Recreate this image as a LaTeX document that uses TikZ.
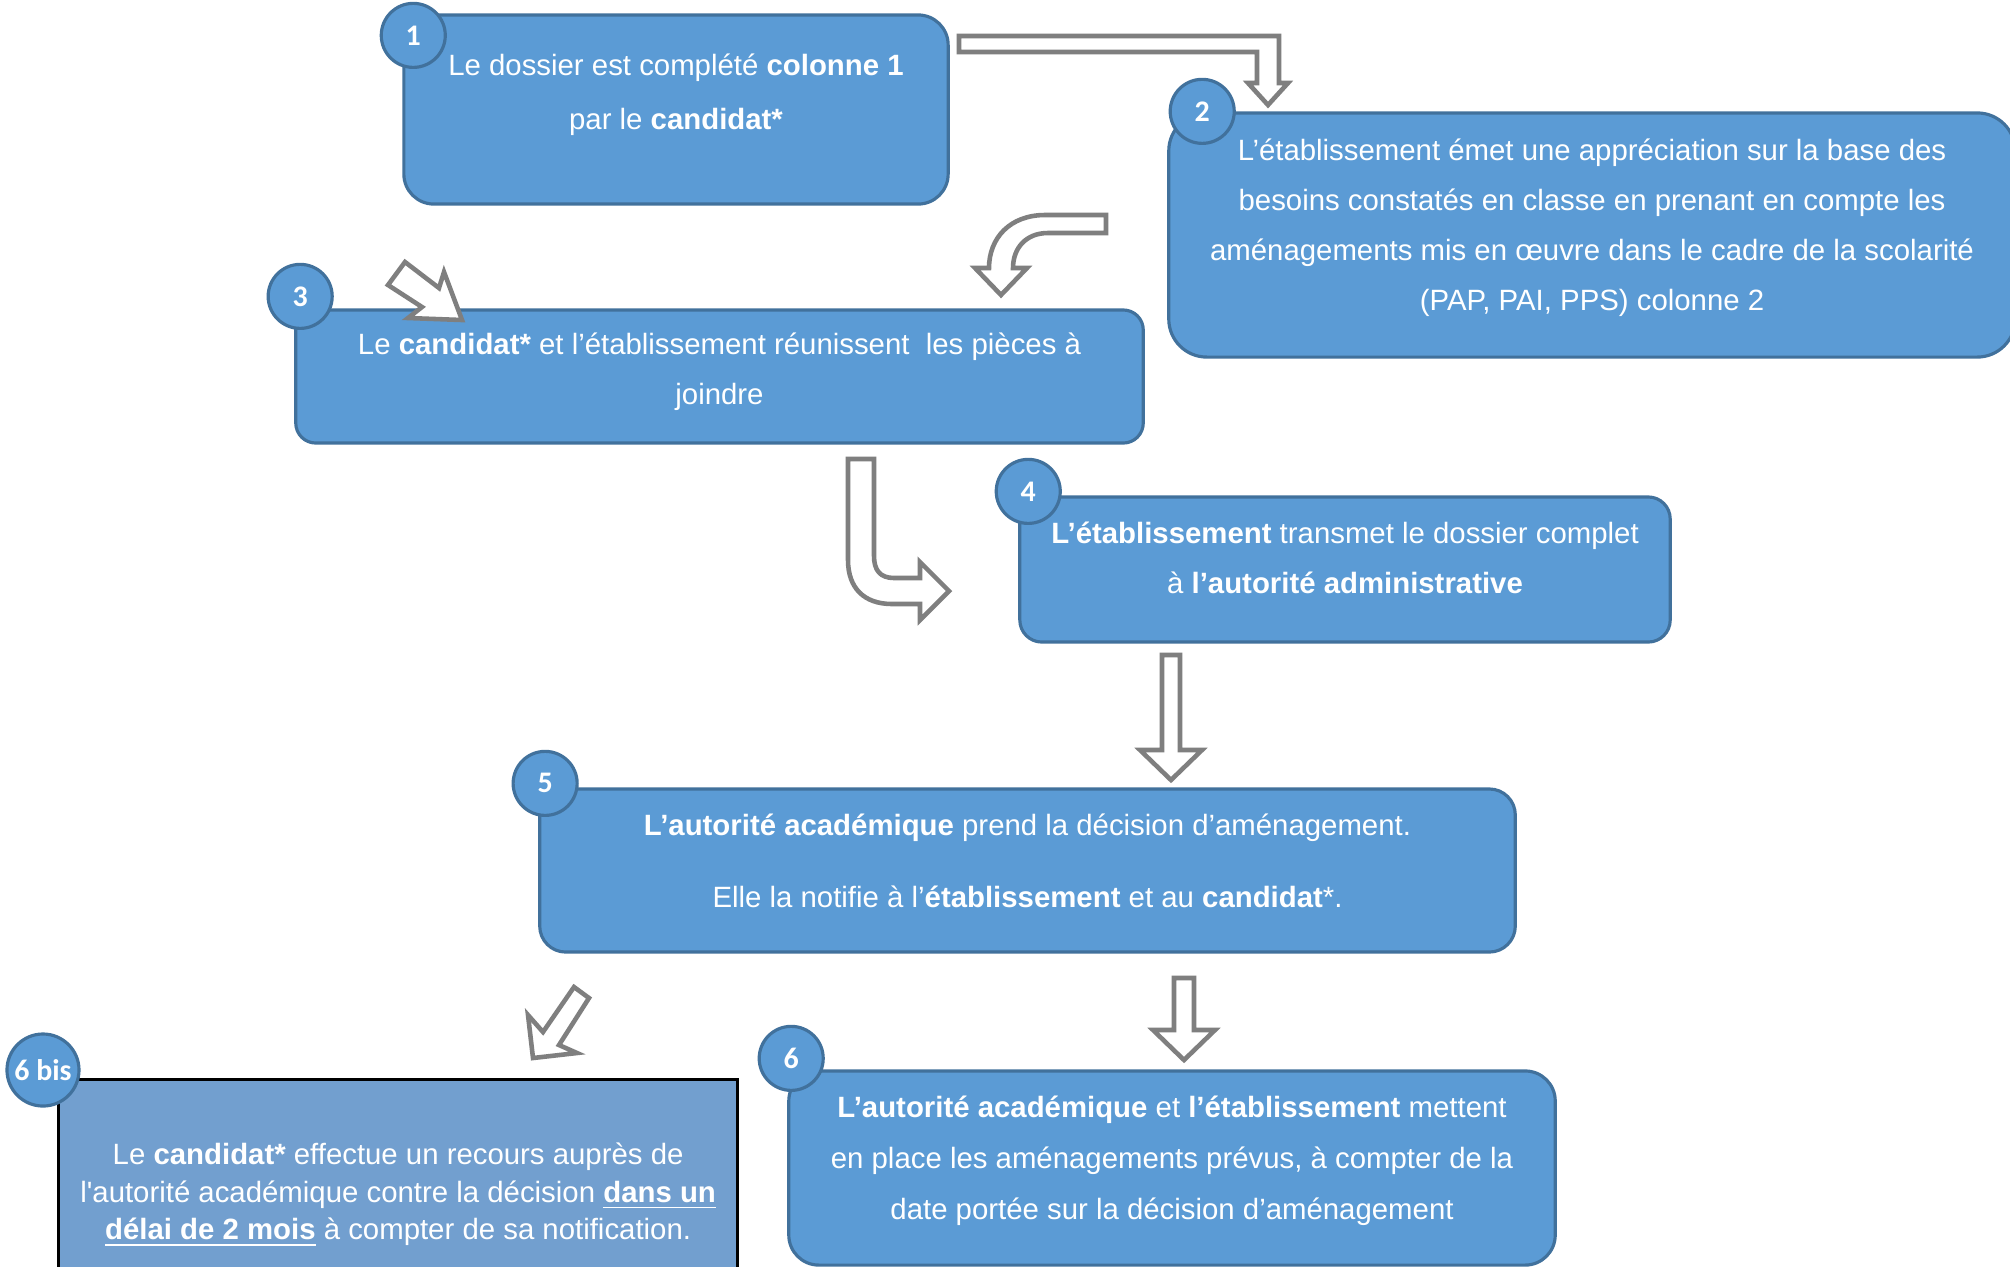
\documentclass[tikz,border=0pt]{standalone}
\usepackage{fontspec}
\setmainfont{Liberation Sans}
\newfontfamily\numfont{Carlito}
\usetikzlibrary{positioning, calc}

\definecolor{stepblue}{HTML}{5B9BD5}
\definecolor{stepborder}{HTML}{41719C}
\definecolor{recoursblue}{HTML}{729FCF}
\definecolor{arrowgray}{HTML}{7F7F7F}

\begin{document}
\begin{tikzpicture}[
		x=0.01cm, y=-0.01cm,
		font=\fontsize{8.35}{14.2}\selectfont,
		box/.style={
			draw=stepborder,
			fill=stepblue,
			line width=0.9pt,
			rectangle,
			rounded corners=0.3cm,
			inner sep=0pt
		},
		recours/.style={
			draw=black,
			fill=recoursblue,
			line width=0.8pt,
			rectangle,
			inner sep=0pt
		},
		boxtext/.style={text=white, align=center},
		num/.style={
			draw=stepborder,
			fill=stepblue,
			line width=0.9pt,
			circle,
			minimum size=0.64cm,
			inner sep=0pt,
			text=white,
			font=\numfont\fontsize{8.5}{10}\selectfont\bfseries
		},
		fatarrow/.style={draw=arrowgray, fill=white, line width=1.3pt, line join=miter}
		]
		
		\path[fill=white, use as bounding box] (0,0) rectangle (2010,1266);
		
		% ---- Boxes ----
		\node[box, minimum width=5.44cm, minimum height=1.89cm] (dossier) at (676,109.5) {};
		\node[box, rounded corners=0.38cm, minimum width=8.46cm, minimum height=2.44cm] (appreciation) at (1592,235) {};
		\node[box, rounded corners=0.2cm, minimum width=8.47cm, minimum height=1.33cm] (pieces) at (719.5,376.5) {};
		\node[box, rounded corners=0.22cm, minimum width=6.5cm, minimum height=1.45cm] (transmet) at (1345,569.5) {};
		\node[box, rounded corners=0.26cm, minimum width=9.75cm, minimum height=1.63cm] (decision) at (1027.5,870.5) {};
		\node[box, minimum width=7.66cm, minimum height=1.94cm] (miseenplace) at (1172,1168) {};
		\node[recours, anchor=north west, minimum width=6.79cm, minimum height=2.6cm] (recours) at (57,1078) {};
		
		% ---- Texts ----
		\node[boxtext, font=\fontsize{8.35}{15.3}\selectfont] (dossiertxt) at ([yshift=0.145cm]dossier.center)
		{Le dossier est complété \textbf{colonne 1}\\par le \textbf{candidat*}};
		
		\node[boxtext] (appreciationtxt) at ([yshift=0.07cm]appreciation.center)
		{L’établissement émet une appréciation sur la base des\\besoins constatés en classe en prenant en compte les\\aménagements mis en œuvre dans le cadre de la scolarité\\(PAP, PAI, PPS) colonne 2};
		
		\node[boxtext] (piecestxt) at ([yshift=0.045cm]pieces.center)
		{Le \textbf{candidat*} et l’établissement réunissent\ \ les pièces à\\joindre};
		
		\node[boxtext] (transmettxt) at ([yshift=0.115cm]transmet.center)
		{\textbf{L’établissement} transmet le dossier complet\\à \textbf{l’autorité administrative}};
		
		\node[boxtext] (decisiontxt) at ([yshift=0.1cm]decision.center)
		{\textbf{L’autorité académique} prend la décision d’aménagement.\\[6.2pt]Elle la notifie à l’\textbf{établissement} et au \textbf{candidat}*.};
		
		\node[boxtext, font=\fontsize{8.35}{14.5}\selectfont] (miseenplacetxt) at ([yshift=0.075cm]miseenplace.center)
		{\textbf{L’autorité académique} et \textbf{l’établissement} mettent\\en place les aménagements prévus, à compter de la\\date portée sur la décision d’aménagement};
		
		\node[boxtext, font=\fontsize{8.35}{10.7}\selectfont] (recourstxt) at ([yshift=-1.17cm]recours.north)
		{Le \textbf{candidat*} effectue un recours auprès de\\l\textquotesingle autorité académique contre la décision \underline{\textbf{dans un}}\\\underline{\textbf{délai de 2 mois}} à compter de sa notification.};
		
		% ---- Numbers ----
		\node[num] (n1) at ([xshift=0.11cm, yshift=-0.22cm]dossier.north west) {1};
		\node[num] (n2) at ([xshift=0.35cm]appreciation.north west) {2};
		\node[num] (n3) at ([xshift=0.06cm, yshift=0.12cm]pieces.north west) {3};
		\node[num] (n4) at ([xshift=0.1cm, yshift=0.04cm]transmet.north west) {4};
		\node[num] (n5) at ([xshift=0.07cm, yshift=0.04cm]decision.north west) {5};
		\node[num] (n6) at ([xshift=0.04cm, yshift=0.11cm]miseenplace.north west) {6};
		\node[num, minimum size=0.72cm] (n6bis) at ([xshift=-0.14cm, yshift=0.08cm]recours.north west) {6 bis};
		
		% ---- Block arrows ----
		% 1 -> 2
		\draw[fatarrow] (959,36) -- (1279,36) -- (1279,83) -- (1288,83) -- (1268,105)
		-- (1248,83) -- (1257,83) -- (1257,52) -- (959,52) -- cycle;
		
		% 2 -> 3
		\draw[fatarrow] (1106,215) -- (1045,215) .. controls (1010,215) and (989,238) .. (989,268)
		-- (975,268) -- (1001,295) -- (1027,268) -- (1013,268)
		.. controls (1013,248) and (1026,233) .. (1048,233) -- (1106,233) -- cycle;
		
		% into 3
		\draw[fatarrow] (388,285) -- (405,262) -- (439,288) -- (444,272) -- (462,320)
		-- (408,318) -- (422,307) -- cycle;
		
		% 3 -> 4
		\draw[fatarrow] (848,459) -- (848,560) .. controls (848,588) and (864,604) .. (892,604)
		-- (920,604) -- (920,620) -- (949,591) -- (920,562) -- (920,578) -- (894,578)
		.. controls (880,578) and (874,570) .. (874,556) -- (874,459) -- cycle;
		
		% 4 -> 5
		\draw[fatarrow] (1162,655) -- (1180,655) -- (1180,750) -- (1202,750) -- (1171,780)
		-- (1140,750) -- (1162,750) -- cycle;
		
		% 5 -> 6 bis
		\draw[fatarrow] (574,987) -- (589,998) -- (559,1045) -- (577,1053) -- (533,1058)
		-- (528,1015) -- (543,1032) -- cycle;
		
		% 5 -> 6
		\draw[fatarrow] (1174,978) -- (1194,978) -- (1194,1030) -- (1215,1030) -- (1184,1060)
		-- (1153,1030) -- (1174,1030) -- cycle;
		
	\end{tikzpicture}
\end{document}
